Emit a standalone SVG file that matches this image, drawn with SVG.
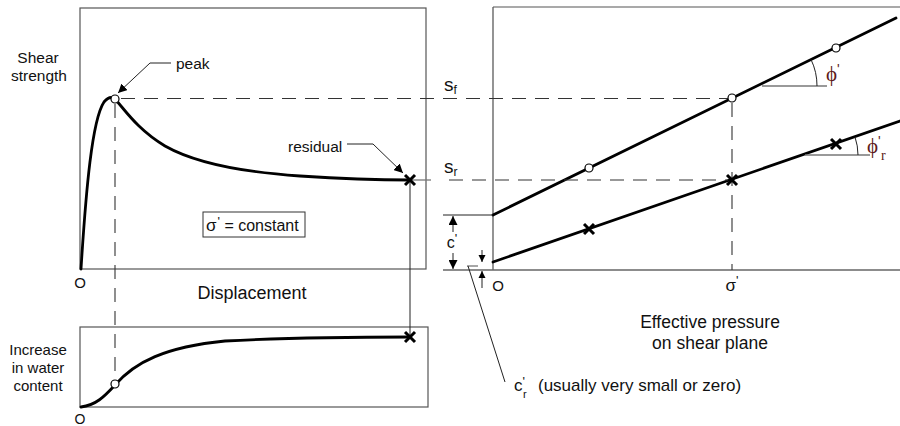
<svg xmlns="http://www.w3.org/2000/svg" width="900" height="426" viewBox="0 0 900 426">
<style>
text{font-family:"Liberation Sans",Arial,sans-serif;fill:#111}
.frame{fill:none;stroke:#555;stroke-width:1.2}
.axis{fill:none;stroke:#666;stroke-width:1.4}
.curve{fill:none;stroke:#000;stroke-width:2.8;stroke-linecap:round}
.dash{fill:none;stroke:#333;stroke-width:1.1;stroke-dasharray:14 9}
.thin{fill:none;stroke:#222;stroke-width:1}
.gray{fill:none;stroke:#777;stroke-width:1.3}
.pt{fill:#fff;stroke:#000;stroke-width:1.2}
.xm{stroke:#000;stroke-width:3;stroke-linecap:butt}
.phi{font-family:"Liberation Serif","DejaVu Serif",serif;fill:#5e1a1a}
</style>
<defs>
<marker id="ah" viewBox="0 0 10 10" refX="10" refY="5" markerWidth="9" markerHeight="9" markerUnits="userSpaceOnUse" orient="auto">
<path d="M0,0 L10,5 L0,10 z" fill="#000"/>
</marker>
<marker id="ahs" viewBox="0 0 10 10" refX="10" refY="5" markerWidth="7" markerHeight="8" markerUnits="userSpaceOnUse" orient="auto">
<path d="M0,0 L10,5 L0,10 z" fill="#000"/>
</marker>
<g id="xmark"><line class="xm" x1="-5" y1="-5" x2="5" y2="5"/><line class="xm" x1="-5" y1="5" x2="5" y2="-5"/></g>
</defs>

<!-- Left upper graph -->
<g id="shear-graph">
<rect class="frame" x="80" y="8" width="346" height="261"/>
<text x="38" y="63" font-size="15.5" text-anchor="middle">Shear</text>
<text x="39" y="81" font-size="15.5" text-anchor="middle">strength</text>
<text x="80" y="288" font-size="15" text-anchor="middle">O</text>
<text x="252" y="299" font-size="18" text-anchor="middle">Displacement</text>
<path class="curve" d="M81,269 C86,190 92,120 104,102 Q110,95 115,99 C125,110 138,130 165,146 C195,163 240,172 300,176 C345,179 385,180 410,180"/>
</g>

<g id="constant-box">
<rect x="203" y="212" width="102" height="25" fill="#fff" stroke="#333" stroke-width="1"/>
<text x="206" y="231" font-size="16"><tspan font-size="17">σ</tspan><tspan font-size="13" dy="-5" dx="1">'</tspan><tspan dy="5"> = constant</tspan></text>
</g>

<g id="peak-label">
<text x="176" y="69" font-size="15.5">peak</text>
</g>
<g id="residual-label">
<text x="288" y="152" font-size="15.5">residual</text>
</g>

<!-- Left lower graph -->
<g id="water-graph">
<rect class="frame" x="80" y="327" width="348" height="80"/>
<text x="38" y="355" font-size="15" text-anchor="middle">Increase</text>
<text x="38" y="373" font-size="15" text-anchor="middle">in water</text>
<text x="38" y="391" font-size="15" text-anchor="middle">content</text>
<text x="80" y="424" font-size="14" text-anchor="middle">O</text>
<path class="curve" d="M81,407 C96,405 104,397 115,385 C135,362 165,347 225,341 C300,337 370,337 410,337"/>
</g>

<!-- Right graph -->
<g id="strength-envelope">
<line class="axis" x1="493" y1="7" x2="493" y2="270"/>
<line class="frame" x1="493" y1="7" x2="900" y2="7"/>
<line class="axis" x1="443" y1="270" x2="900" y2="270"/>
<text x="498" y="291" font-size="15" text-anchor="middle">O</text>
<text x="732" y="291" font-size="17" text-anchor="middle">σ<tspan font-size="13" dy="-6">'</tspan></text>
<text x="710" y="328" font-size="17.5" text-anchor="middle">Effective pressure</text>
<text x="710" y="349" font-size="17.5" text-anchor="middle">on shear plane</text>
<text x="444" y="91" font-size="19">s<tspan font-size="12" dy="3">f</tspan></text>
<text x="444" y="173" font-size="19">s<tspan font-size="12" dy="3">r</tspan></text>
<line class="curve" x1="493" y1="215" x2="896" y2="18"/>
<line class="curve" x1="493" y1="262" x2="900" y2="121"/>
</g>

<g id="phi-peak">
<line class="gray" x1="762" y1="86" x2="827" y2="86"/>
<path class="thin" d="M817,86 A60,60 0 0 0 811,59.5"/>
<text class="phi" x="826" y="81" font-size="21">ϕ<tspan font-size="14" dy="-7" font-family="Liberation Sans">'</tspan></text>
</g>
<g id="phi-residual">
<line class="gray" x1="805" y1="155" x2="870" y2="155"/>
<path class="thin" d="M858,155 A56,56 0 0 0 855,137"/>
<text class="phi" x="867" y="153" font-size="21">ϕ<tspan font-size="14" dy="-7" font-family="Liberation Sans">'</tspan></text>
<text class="phi" x="881" y="160" font-size="14" font-family="Liberation Sans">r</text>
</g>

<g id="c-prime">
<line class="thin" x1="443" y1="215" x2="493" y2="215"/>
<line class="thin" x1="453" y1="232" x2="453" y2="216" marker-end="url(#ah)"/>
<line class="thin" x1="453" y1="253" x2="453" y2="269" marker-end="url(#ah)"/>
<text x="452" y="248" font-size="16" text-anchor="middle">c<tspan font-size="13" dy="-5">'</tspan></text>
</g>

<g id="cr-prime">
<line class="thin" x1="482" y1="250" x2="482" y2="262" marker-end="url(#ahs)"/>
<line class="thin" x1="482" y1="288" x2="482" y2="271" marker-end="url(#ahs)"/>
<line class="gray" stroke-width="1" x1="467" y1="266" x2="478" y2="266"/>
<line class="thin" stroke="#444" x1="468" y1="266" x2="505" y2="382"/>
<text x="514" y="391" font-size="17">c<tspan font-size="13" dy="-5">'</tspan></text>
<text x="523" y="398" font-size="11">r</text>
<text x="538" y="391" font-size="17">(usually very small or zero)</text>
</g>

<!-- Connectors -->
<g id="connectors">
<line class="dash" x1="121" y1="98.5" x2="728" y2="98.5"/>
<line class="dash" x1="115" y1="104" x2="115" y2="380"/>
<line class="gray" x1="410" y1="180" x2="431" y2="180"/>
<line class="dash" x1="449" y1="180" x2="728" y2="180"/>
<line class="dash" x1="732" y1="103" x2="732" y2="270"/>
<line class="thin" x1="410" y1="180" x2="410" y2="337"/>
<polyline class="thin" stroke="#333" points="171,63 150,63 118,93" marker-end="url(#ah)"/>
<polyline class="thin" stroke="#333" points="347,144 373,144 403,173" marker-end="url(#ah)"/>
</g>

<!-- Points -->
<g id="points">
<circle class="pt" cx="115" cy="99" r="4"/>
<circle class="pt" cx="115" cy="384" r="4"/>
<circle class="pt" cx="589" cy="168" r="4"/>
<circle class="pt" cx="732" cy="98" r="4"/>
<circle class="pt" cx="836" cy="48" r="4"/>
<use href="#xmark" x="410" y="180"/>
<use href="#xmark" x="410" y="337"/>
<use href="#xmark" x="589" y="229"/>
<use href="#xmark" x="732" y="180"/>
<use href="#xmark" x="836" y="144"/>
</g>
</svg>
